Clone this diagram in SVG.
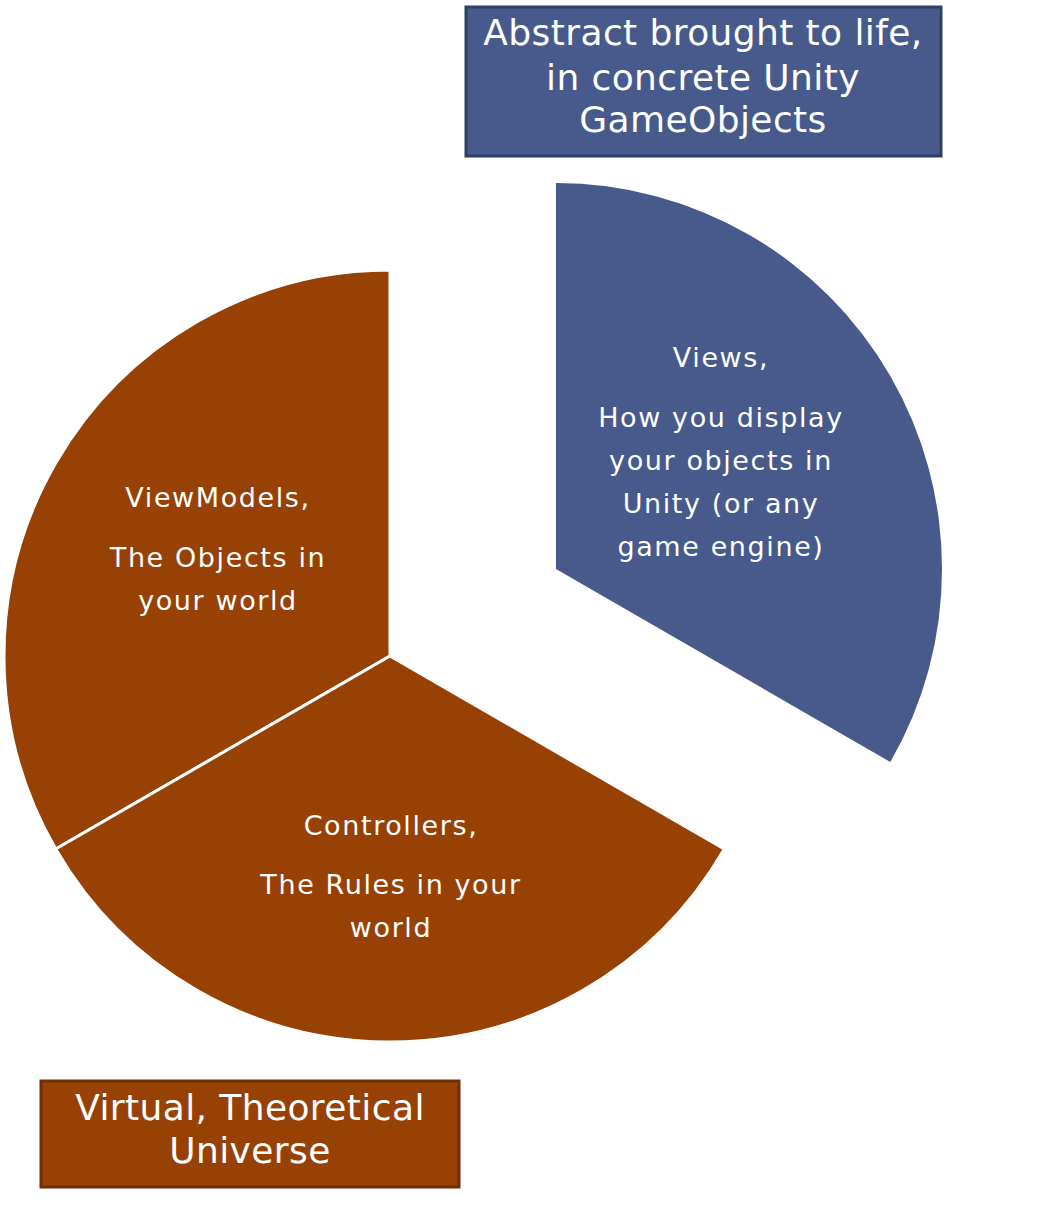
<svg xmlns="http://www.w3.org/2000/svg" width="1058" height="1207" viewBox="0 0 1058 1207">
<style>
.brown{fill:#984105;stroke:#ffffff;stroke-width:3;stroke-linejoin:miter}
.blue{fill:#475a8b;stroke:none}
.lbl{font-family:"DejaVu Sans","Liberation Sans",sans-serif;fill:#ffffff;text-anchor:middle}
.s{font-size:27px;letter-spacing:1.6px}
.b{font-size:36px;letter-spacing:0.4px}
</style>
<rect width="1058" height="1207" fill="#ffffff"/>
<g id="viewmodels">
<path class="brown" d="M390,656 L390,270 A386,386 0 0 0 55.7,849 Z"/>
<text class="lbl s" x="218" y="507">ViewModels,</text>
<text class="lbl s" x="218" y="567">The Objects in</text>
<text class="lbl s" x="218" y="610">your world</text>
</g>
<g id="controllers">
<path class="brown" d="M390,656 L55.7,849 A386,386 0 0 0 724.3,849 Z"/>
<text class="lbl s" x="391" y="835">Controllers,</text>
<text class="lbl s" x="391" y="894">The Rules in your</text>
<text class="lbl s" x="391" y="937">world</text>
</g>
<g id="views">
<path class="blue" d="M556,569 L556,183 A386,386 0 0 1 890.3,762 Z"/>
<text class="lbl s" x="721" y="367">Views,</text>
<text class="lbl s" x="721" y="427">How you display</text>
<text class="lbl s" x="721" y="470">your objects in</text>
<text class="lbl s" x="721" y="513">Unity (or any</text>
<text class="lbl s" x="721" y="556">game engine)</text>
</g>
<g id="title-abstract">
<rect x="466" y="7" width="475" height="149" fill="#475a8b" stroke="#2f3f66" stroke-width="3"/>
<text class="lbl b" x="703" y="45">Abstract brought to life,</text>
<text class="lbl b" x="703" y="90">in concrete Unity</text>
<text class="lbl b" x="703" y="132">GameObjects</text>
</g>
<g id="title-virtual">
<rect x="41" y="1081" width="418" height="106" fill="#984105" stroke="#6e2e03" stroke-width="3"/>
<text class="lbl b" x="250" y="1120">Virtual, Theoretical</text>
<text class="lbl b" x="250" y="1163">Universe</text>
</g>
<g id="connectors"></g>
</svg>
